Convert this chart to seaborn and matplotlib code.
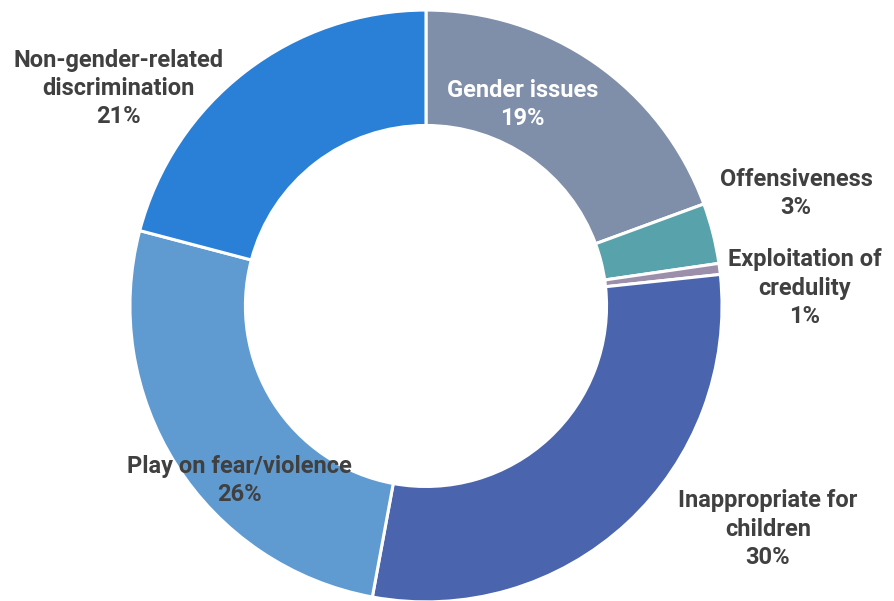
import matplotlib
matplotlib.use('Agg')
import matplotlib.pyplot as plt
import seaborn as sns

# ========== Data ==========
categories = ['Gender issues', 'Offensiveness', 'Exploitation of\ncredulity',
              'Inappropriate for\nchildren', 'Play on fear/violence',
              'Non-gender-related\ndiscrimination']
shares = [19.4, 3.3, 0.6, 29.6, 26.2, 20.9]
colors = ['#7f8ea9', '#58a2ab', '#9b8fab', '#4a65ad', '#5f9bd0', '#2a7fd7']

# label positions (data coords, pie radius = 1)
label_xy = [(0.325, 0.68), (1.25, 0.38), (1.28, 0.06),
            (1.155, -0.755), (-0.63, -0.59), (-1.04, 0.735)]
label_colors = ['white', '#404040', '#404040', '#404040', '#404040', '#404040']

# ========== Style ==========
sns.set_theme(style='white')
plt.rcParams['font.family'] = ['Roboto', 'DejaVu Sans']

fig = plt.figure(figsize=(8.94, 6.01), dpi=100)
ax = fig.add_axes([0, 0, 1, 1])

ax.pie(shares, colors=colors, startangle=90, counterclock=False,
       radius=1.0, wedgeprops=dict(width=0.39, edgecolor='white', linewidth=2.2))

for name, val, (x, y), c in zip(categories, shares, label_xy, label_colors):
    ax.text(x, y, f'{name}\n{val:.0f}%', ha='center', va='center',
            fontsize=17, fontweight='bold', color=c, linespacing=1.3)

ax.set_xlim(-1.439, 1.581)
ax.set_ylim(-0.997, 1.034)
ax.set_aspect('auto')
ax.axis('off')

plt.savefig('out.png', dpi=100)
plt.close()
